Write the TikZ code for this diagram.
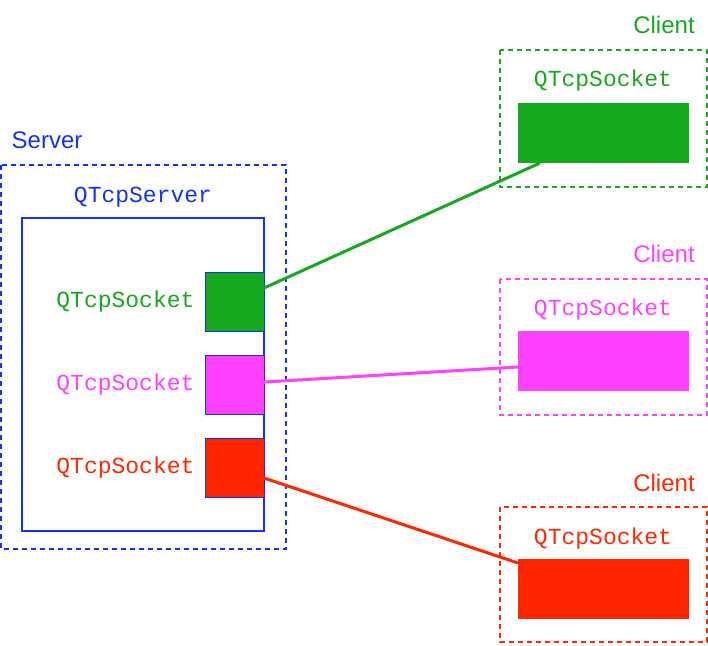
\documentclass[tikz,border=0pt]{standalone}
\usepackage{fontspec}
\setmainfont{Liberation Sans}
\setmonofont{Liberation Mono}
\definecolor{qblue}{RGB}{20,50,245}
\definecolor{qgreen}{RGB}{22,168,30}
\definecolor{qmag}{RGB}{255,64,255}
\definecolor{qred}{RGB}{255,38,0}
\begin{document}
\begin{tikzpicture}[x=1pt,y=-1pt,
  title/.style={font=\fontsize{24}{24}\selectfont},
  mono/.style={font=\fontsize{23}{23}\selectfont\ttfamily},
  dbox/.style={line width=1.5pt,dash pattern=on 5pt off 4pt},
  sq/.style={draw=qblue,line width=1.2pt,minimum size=59pt,inner sep=0,anchor=north west},
  cl/.style={minimum width=171pt,minimum height=60pt,inner sep=0,anchor=north west},
  link/.style={line width=3pt}]
\useasboundingbox (0,0) rectangle (708,645);
\node[title,text=qblue] (srv) at (47,140) {Server};
\draw[dbox,draw=qblue] (1,165) rectangle (286,549);
\node[mono,text=qblue] (qs) at (143,197) {QTcpServer};
\draw[qblue,line width=1.2pt] (22,218) rectangle (264,531);
\node[sq,fill=qgreen] (g) at (205,272) {};
\node[sq,fill=qmag] (m) at (205,355) {};
\node[sq,fill=qred] (r) at (205,438) {};
\node[mono,text=qgreen,anchor=east] (lg) at (198,302) {QTcpSocket};
\node[mono,text=qmag,anchor=east] (lm) at (198,385) {QTcpSocket};
\node[mono,text=qred,anchor=east] (lr) at (198,468) {QTcpSocket};
\draw[dbox,draw=qgreen] (500,50) rectangle (707,187);
\node[title,text=qgreen] (c1) at (664,25) {Client};
\node[mono,text=qgreen] (tg) at (603,81) {QTcpSocket};
\node[cl,fill=qgreen] (G) at (518,103) {};
\draw[dbox,draw=qmag] (500,279) rectangle (707,415);
\node[title,text=qmag] (c2) at (664,254) {Client};
\node[mono,text=qmag] (tm) at (603,310) {QTcpSocket};
\node[cl,fill=qmag] (M) at (518,331) {};
\draw[dbox,draw=qred] (500,507) rectangle (707,642);
\node[title,text=qred] (c3) at (664,483) {Client};
\node[mono,text=qred] (tr) at (603,539) {QTcpSocket};
\node[cl,fill=qred] (R) at (518,559) {};
\coordinate (ga) at (264,288); \coordinate (gb) at (540,163);
\coordinate (ma) at (264,382); \coordinate (mb) at (518,367);
\coordinate (ra) at (264,478); \coordinate (rb) at (518,563);
\draw[link,qgreen] (ga) -- (gb);
\draw[link,qmag] (ma) -- (mb);
\draw[link,qred] (ra) -- (rb);
\end{tikzpicture}
\end{document}
